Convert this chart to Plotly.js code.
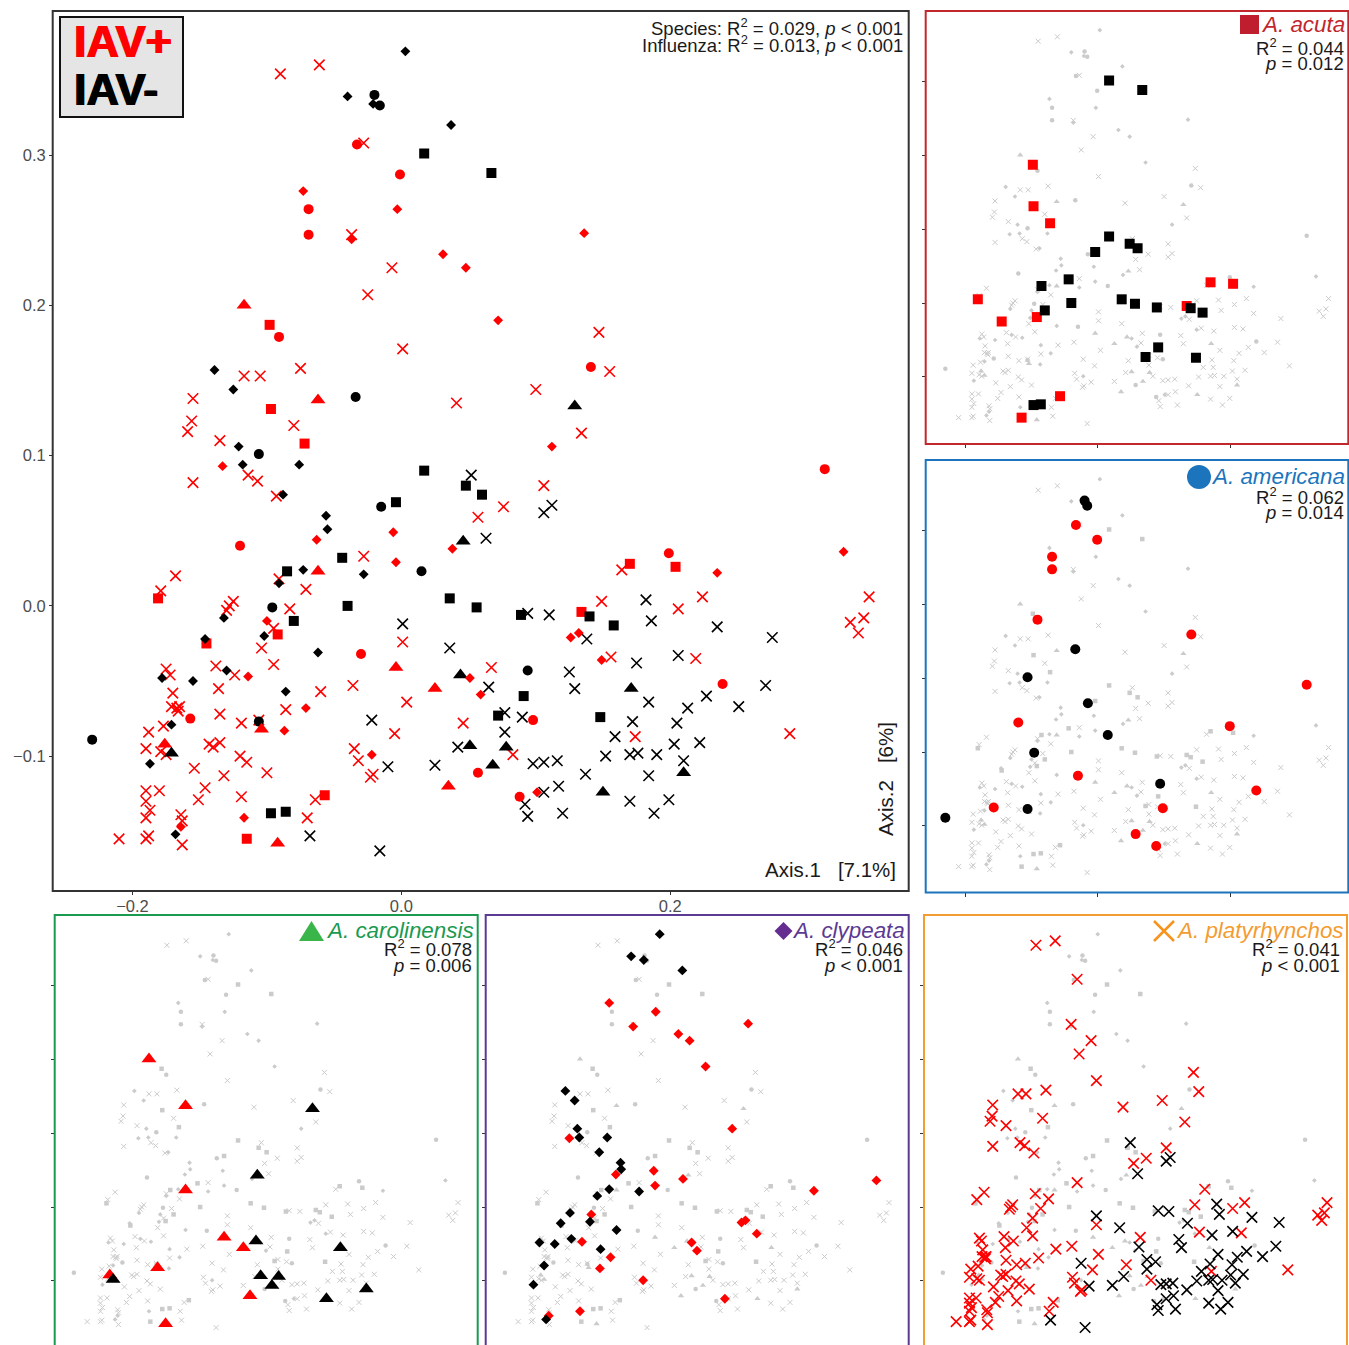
<!DOCTYPE html>
<html><head><meta charset="utf-8">
<script src="https://cdn.plot.ly/plotly-3.0.1.min.js"></script>
<style>html,body{margin:0;padding:0;background:#fff;overflow:hidden}#c{width:1349px;height:1350px}</style>
</head><body><div id="c"></div>
<script>
// A. platyrhynchos
const platyPosX=[-.090,-.061,-.028,-.037,-.007,-.025,.147,.155,.001,.100,.041,.134,.106,.076,.057,-.028,.164,.149,.206,.224,.001,.156,.219,.067,.348,.344,.334,.340,.289,.174,.046,.004,.083,-.036,-.005,-.035,-.032,-.021,-.023,-.117,-.105,-.075,-.155,-.156,-.159,-.080,-.135,-.114,-.107,-.155,-.093,-.091,-.168,-.179,-.071,-.125,-.128,-.130,-.083,-.095,-.104,-.095,-.138,-.175,-.172,-.124,-.136,-.060,-.170,-.171,-.167,-.165,-.166,-.135,-.086,-.188,-.177,-.119,-.106,-.190,-.179,-.175,-.143,-.140,-.135,-.120,-.115,-.154,-.132,-.100,-.146,-.151,-.119,-.190,-.180,-.190,-.187,-.190,-.164,-.163,-.210,-.190,-.188,-.163,-.064,-.070];
const platyPosY=[.354,.360,.308,.247,.225,.207,.182,.156,.171,.144,.135,.115,.080,.066,.059,.033,.024,.003,-.002,.006,-.024,-.034,-.035,-.041,.006,-.008,-.011,-.018,-.085,-.087,-.078,-.064,-.099,-.053,-.085,-.095,-.103,-.112,-.114,.153,.153,.158,.138,.123,.116,.120,.110,.087,.083,.082,.073,.018,.020,.010,.011,.003,.000,-.003,-.002,-.015,-.028,-.039,-.040,-.042,-.046,-.046,-.055,-.057,-.058,-.067,-.068,-.067,-.070,-.072,-.069,-.084,-.080,-.078,-.076,-.095,-.097,-.099,-.092,-.094,-.091,-.100,-.104,-.108,-.113,-.111,-.121,-.129,-.127,-.123,-.123,-.130,-.136,-.141,-.139,-.143,-.155,-.155,-.153,-.159,-.129,-.141];
const platyNegX=[.052,.112,.106,.063,.001,.036,.094,.110,.138,.175,.125,.182,.186,.235,.276,.206,.271,.227,.251,.213,.184,.172,.205,.222,.203,.190,.176,.170,.210,.184,.170,.199,.188,.065,.129,.077,.090,-.022,.077,.159,.042,.152,-.010,.025,.098,.106,.116,.137,.117,.106,.092,.094,.120,-.016,-.068];
const platyNegY=[.087,.067,.062,.045,-.012,-.028,-.005,-.006,-.022,-.038,-.044,.004,-.010,-.014,-.021,-.033,-.053,-.060,-.067,-.068,-.064,-.077,-.078,-.091,-.092,-.099,-.098,-.099,-.103,-.113,-.130,-.129,-.138,-.054,-.055,-.071,-.074,-.076,-.084,-.087,-.094,-.100,-.107,-.106,-.105,-.104,-.103,-.112,-.120,-.124,-.132,-.140,-.138,-.163,-.153];
// A. acuta
const acutaPosX=[-.098,-.097,-.072,-.181,-.145,-.092,.170,.204,.134,-.057,-.115];
const acutaPosY=[.187,.131,.108,.005,-.025,-.019,.028,.026,-.004,-.126,-.155];
const acutaNegX=[.017,.067,.017,.048,.060,-.004,-.044,-.085,-.080,-.040,.036,.056,.089,.140,.158,.091,.072,.148,-.097,-.086];
const acutaNegY=[.301,.288,.090,.080,.074,.069,.032,.023,-.010,0,.005,-.001,-.006,-.007,-.013,-.060,-.073,-.074,-.138,-.137];
// A. americana
const amerPosX=[-.033,-.001,-.069,-.069,-.091,.141,.315,-.120,.199,-.030,.239,-.157,.098,.057,.088];
const amerPosY=[.307,.287,.264,.247,.179,.159,.091,.040,.035,-.032,-.052,-.075,-.076,-.111,-.127];
const amerNegX=[-.020,-.016,-.034,-.106,-.015,.015,-.096,.094,-.106,-.230];
const amerNegY=[.340,.333,.139,.101,.066,.023,-.001,-.043,-.077,-.089];
// A. carolinensis
const caroPosX=[-.117,-.062,-.062,-.004,.025,-.104,-.176,.035,-.092];
const caroPosY=[.200,.137,.023,-.041,-.055,-.082,-.092,-.120,-.158];
const caroNegX=[.129,.046,.044,.171,.051,.078,.068,.150,.210,-.171];
const caroNegY=[.133,.043,-.046,-.055,-.093,-.094,-.106,-.124,-.111,-.098];
// A. clypeata
const clypPosX=[-.073,-.003,-.037,.031,.048,.136,.072,.112,-.133,-.063,-.006,-.004,.038,-.100,-.114,-.071,-.087,-.117,-.164,-.022,.051,.059,.101,.132,.126,.149,.235,.329];
const clypPosY=[.276,.264,.244,.234,.225,.248,.190,.106,.093,.044,.049,.029,.038,-.010,-.047,-.068,-.083,-.141,-.147,-.099,-.048,-.059,-.124,-.018,-.021,-.036,.022,.036];
const clypNegX=[.003,-.040,-.021,.037,-.139,-.125,-.121,-.118,-.076,-.088,-.056,-.055,-.073,-.091,-.028,-.132,-.102,-.146,-.062,-.130,-.178,-.155,-.086,-.171,-.187,-.168];
const clypNegY=[.369,.339,.334,.320,.157,.144,.106,.094,.094,.074,.060,.051,.024,.015,.021,-.008,-.020,-.022,-.031,-.043,-.048,-.050,-.057,-.079,-.105,-.152];

const xTicks=[-0.2,0,0.2];
const yTicks=[-0.1,0,0.1,0.2,0.3];
const xRange=[-0.2584,0.3773];
const yRange=[-0.1893,0.3949];

const W=1349,H=1350;
const FONT='"Liberation Sans", Arial, sans-serif';
const species=[
 {key:'platy',sym:'x-thin',size:10.5,grey:5,px:platyPosX,py:platyPosY,nx:platyNegX,ny:platyNegY},
 {key:'acuta',sym:'square',size:10,grey:4.5,px:acutaPosX,py:acutaPosY,nx:acutaNegX,ny:acutaNegY},
 {key:'amer',sym:'circle',size:10,grey:4.5,px:amerPosX,py:amerPosY,nx:amerNegX,ny:amerNegY},
 {key:'caro',sym:'triangle-up',size:13,grey:5.5,px:caroPosX,py:caroPosY,nx:caroNegX,ny:caroNegY},
 {key:'clyp',sym:'diamond',size:7.6,grey:3.6,px:clypPosX,py:clypPosY,nx:clypNegX,ny:clypNegY}
];
const panels=[
 {key:'main',xa:'x',ya:'y',dom:[54,12.4,908.5,890.4],box:[52.7,11,908.7,891],color:'#333333',lw:2},
 {key:'acuta',xa:'x2',ya:'y2',dom:[926.5,11,1348,443],box:[925.7,11,1348.3,444],color:'#C1272D',lw:2},
 {key:'amer',xa:'x3',ya:'y3',dom:[926.5,460,1348,892],box:[925.7,460,1348.3,892.5],color:'#1C75BC',lw:2},
 {key:'caro',xa:'x4',ya:'y4',dom:[55,915,477.5,1347],box:[54.7,915,477.7,1348],color:'#1A9A50',lw:2},
 {key:'clyp',xa:'x5',ya:'y5',dom:[486,915,908.5,1347],box:[485.7,915,908.7,1348],color:'#5B3A93',lw:2},
 {key:'platy',xa:'x6',ya:'y6',dom:[924,915,1346.5,1347],box:[924,915,1347,1348],color:'#F39C32',lw:2}
];
const traces=[];
function mk(s,xs,ys,col,size,lw,p){
  const isX=s.sym==='x-thin';
  traces.push({type:'scatter',mode:'markers',x:xs,y:ys,xaxis:p.xa,yaxis:p.ya,hoverinfo:'skip',showlegend:false,cliponaxis:true,
    marker:{symbol:s.sym,size:size,color:col,line:isX?{color:col,width:lw}:{width:0}}});
}
panels.forEach(p=>{
  if(p.key!=='main') species.forEach(s=>{ if(s.key!==p.key){
    mk(s,s.px,s.py,'#cbcbcb',s.grey,1,p); mk(s,s.nx,s.ny,'#cbcbcb',s.grey,1,p);
  }});
  species.forEach(s=>{ if(p.key==='main'||s.key===p.key){
    mk(s,s.px,s.py,'#ff0000',s.size,1.6,p); mk(s,s.nx,s.ny,'#000000',s.size,1.6,p);
  }});
});
const layout={width:W,height:H,margin:{l:0,r:0,t:0,b:0},paper_bgcolor:'#fff',plot_bgcolor:'rgba(0,0,0,0)',showlegend:false,
  font:{family:FONT},annotations:[],shapes:[]};
panels.forEach((p,i)=>{
  const n=i===0?'':String(i+1),b=p.dom,main=i===0;
  const common={showgrid:false,zeroline:false,showline:false,
    ticks:'outside',ticklen:main?4:3.5,tickwidth:1,tickcolor:'#333333',tickmode:'array',showticklabels:main,
    tickfont:{family:FONT,size:16.5,color:'#4d4d4d'},tickformat:'.1f',fixedrange:true,automargin:false};
  layout['xaxis'+n]=Object.assign({},common,{domain:[b[0]/W,b[2]/W],range:xRange,tickvals:xTicks,anchor:'y'+n},main?{ticklabelstandoff:-3}:{});
  layout['yaxis'+n]=Object.assign({},common,{domain:[1-b[3]/H,1-b[1]/H],range:yRange,tickvals:yTicks,anchor:'x'+n});
  layout.shapes.push({type:'rect',xref:'paper',yref:'paper',x0:p.box[0]/W,x1:p.box[2]/W,y0:1-p.box[1]/H,y1:1-p.box[3]/H,
    fillcolor:'rgba(0,0,0,0)',line:{color:p.color,width:p.lw}});
});
function txt(t,x,y,size,color,anchor,extra){
  layout.annotations.push(Object.assign({text:t,xref:'paper',yref:'paper',x:x/W,y:1-y/H,xanchor:anchor||'right',yanchor:'middle',
    showarrow:false,borderpad:0,font:Object.assign({family:FONT,size:size,color:color||'#1a1a1a'},(extra&&extra.fontx)||{})},extra&&extra.textangle!==undefined?{textangle:extra.textangle}:{}));
}
// stats
txt('Species: R<sup>2</sup> = 0.029, <i>p</i> &lt; 0.001',904,27,18.5);
txt('Influenza: R<sup>2</sup> = 0.013, <i>p</i> &lt; 0.001',904,44,18.5);
txt('Axis.1   [7.1%]',897,869,20.5);
txt('Axis.2   [6%]',885.5,779.5,20.5,'#1a1a1a','center',{textangle:-90});
// IAV box
layout.shapes.push({type:'rect',xref:'paper',yref:'paper',x0:60/W,x1:183/W,y0:1-17/H,y1:1-117/H,fillcolor:'#e5e5e5',line:{color:'#111',width:2}});
txt('<b>IAV+</b>',72.5,42,45,'#ff0000','left',{fontx:{shadow:'0.8px 0 0 #ff0000, -0.8px 0 0 #ff0000'}});
txt('<b>IAV-</b>',72.5,90,45,'#000000','left',{fontx:{shadow:'0.8px 0 0 #000000, -0.8px 0 0 #000000'}});
// panel labels
const labels=[
 ['A. acuta','#C1272D',1345.5,25,'R<sup>2</sup> = 0.044','<i>p</i> = 0.012',1344.5,47,63.5],
 ['A. americana','#1C75BC',1345.5,477,'R<sup>2</sup> = 0.062','<i>p</i> = 0.014',1344.5,496,512.5],
 ['A. carolinensis','#1A9A50',474.7,930.5,'R<sup>2</sup> = 0.078','<i>p</i> = 0.006',473,948.5,966],
 ['A. clypeata','#5B3A93',905.7,930.5,'R<sup>2</sup> = 0.046','<i>p</i> &lt; 0.001',904,948.5,966],
 ['A. platyrhynchos','#F39C32',1344.7,930.5,'R<sup>2</sup> = 0.041','<i>p</i> &lt; 0.001',1341,948.5,966]
];
labels.forEach(l=>{
  txt('<i>'+l[0]+'</i>',l[2],l[3],22.4,l[1]);
  txt(l[4],l[6],l[7],18.5);
  txt(l[5],l[6],l[8],18.5);
});
// legend swatches
function P(x,y){return (x/W).toFixed(5)+' '+(1-y/H).toFixed(5);}
const sw=(path,fill,line)=>layout.shapes.push({type:'path',xref:'paper',yref:'paper',path,fillcolor:fill,line:line||{width:0}});
sw('M'+P(1240,15)+' L'+P(1259,15)+' L'+P(1259,34)+' L'+P(1240,34)+' Z','#BE1E2D');
layout.shapes.push({type:'circle',xref:'paper',yref:'paper',x0:1187/W,x1:1211/W,y0:1-465/H,y1:1-489/H,fillcolor:'#1C75BC',line:{width:0}});
sw('M'+P(311.5,921)+' L'+P(324,941)+' L'+P(299,941)+' Z','#39B54A');
sw('M'+P(783.5,922)+' L'+P(792.5,931)+' L'+P(783.5,940)+' L'+P(774.5,931)+' Z','#662D91');
sw('M'+P(1154,921)+' L'+P(1174,941)+' M'+P(1174,921)+' L'+P(1154,941),'rgba(0,0,0,0)',{color:'#F7941E',width:2.5});
Plotly.newPlot('c',traces,layout,{displayModeBar:false,staticPlot:true});
</script></body></html>
